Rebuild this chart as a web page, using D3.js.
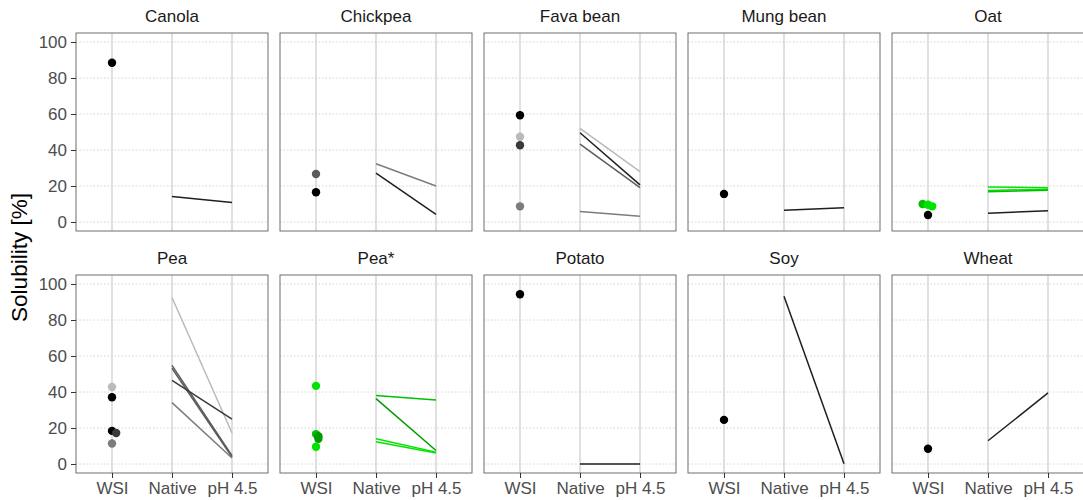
<!DOCTYPE html>
<html>
<head>
<meta charset="utf-8">
<script src="https://cdn.jsdelivr.net/npm/d3@7"></script>
<style>
  body { margin: 0; background: #fff; }
  text { font-family: 'Liberation Sans', Arial, sans-serif; }
</style>
</head>
<body>
<div id="chart"></div>
<script>
// Facets, x categories and y ticks
const crops = ['Canola', 'Chickpea', 'Fava bean', 'Mung bean', 'Oat',
               'Pea', 'Pea*', 'Potato', 'Soy', 'Wheat'];
const conditions = ['WSI', 'Native', 'pH 4.5'];
const yTicks = [0, 20, 40, 60, 80, 100];

// Source studies (colour groups)
const sources = ['k', 'd', 'dm', 'm', 'l', 'g', 'gb', 'gd'];
const sourceColors = ['#000000', '#3a3a3a', '#5c5c5c', '#7c7c7c', '#bababa', '#00c000', '#00e400', '#009c00'];

// WSI values (points); jitter is the small horizontal offset seen in the picture
const wsiPoints = [
  { crop: 'Canola', source: 'k', value: 88.5, jitter: 0 },
  { crop: 'Chickpea', source: 'dm', value: 26.7, jitter: 0 },
  { crop: 'Chickpea', source: 'k', value: 16.5, jitter: 0 },
  { crop: 'Fava bean', source: 'k', value: 59.3, jitter: 0 },
  { crop: 'Fava bean', source: 'l', value: 47.4, jitter: 0 },
  { crop: 'Fava bean', source: 'd', value: 42.6, jitter: 0 },
  { crop: 'Fava bean', source: 'm', value: 8.7, jitter: 0 },
  { crop: 'Mung bean', source: 'k', value: 15.6, jitter: 0 },
  { crop: 'Oat', source: 'g', value: 10.0, jitter: -0.09 },
  { crop: 'Oat', source: 'gb', value: 9.6, jitter: 0 },
  { crop: 'Oat', source: 'gb', value: 8.7, jitter: 0.07 },
  { crop: 'Oat', source: 'k', value: 3.9, jitter: 0 },
  { crop: 'Pea', source: 'l', value: 42.8, jitter: 0 },
  { crop: 'Pea', source: 'k', value: 37.1, jitter: 0 },
  { crop: 'Pea', source: 'k', value: 18.4, jitter: 0 },
  { crop: 'Pea', source: 'd', value: 17.2, jitter: 0.07 },
  { crop: 'Pea', source: 'm', value: 11.4, jitter: 0 },
  { crop: 'Pea*', source: 'gb', value: 43.4, jitter: 0 },
  { crop: 'Pea*', source: 'g', value: 16.6, jitter: 0 },
  { crop: 'Pea*', source: 'gd', value: 15.4, jitter: 0.04 },
  { crop: 'Pea*', source: 'gd', value: 14.0, jitter: 0.04 },
  { crop: 'Pea*', source: 'gb', value: 9.6, jitter: 0 },
  { crop: 'Potato', source: 'k', value: 94.3, jitter: 0 },
  { crop: 'Soy', source: 'k', value: 24.5, jitter: 0 },
  { crop: 'Wheat', source: 'k', value: 8.5, jitter: 0 }
];

// Native -> pH 4.5 solubility (lines)
const solLines = [
  { crop: 'Canola', source: 'k', native: 14.1, ph: 10.9 },
  { crop: 'Chickpea', source: 'm', native: 32.4, ph: 20.0 },
  { crop: 'Chickpea', source: 'k', native: 27.2, ph: 4.3 },
  { crop: 'Fava bean', source: 'l', native: 52.0, ph: 28.0 },
  { crop: 'Fava bean', source: 'k', native: 49.6, ph: 20.6 },
  { crop: 'Fava bean', source: 'dm', native: 43.3, ph: 19.1 },
  { crop: 'Fava bean', source: 'm', native: 5.9, ph: 3.2 },
  { crop: 'Mung bean', source: 'k', native: 6.5, ph: 7.9 },
  { crop: 'Oat', source: 'gb', native: 19.5, ph: 19.0 },
  { crop: 'Oat', source: 'gb', native: 17.5, ph: 18.2 },
  { crop: 'Oat', source: 'g', native: 16.8, ph: 17.6 },
  { crop: 'Oat', source: 'k', native: 4.8, ph: 6.3 },
  { crop: 'Pea', source: 'l', native: 92.5, ph: 17.2 },
  { crop: 'Pea', source: 'dm', native: 54.8, ph: 4.6 },
  { crop: 'Pea', source: 'dm', native: 53.2, ph: 3.9 },
  { crop: 'Pea', source: 'd', native: 46.5, ph: 24.9 },
  { crop: 'Pea', source: 'm', native: 34.1, ph: 3.3 },
  { crop: 'Pea*', source: 'g', native: 38.0, ph: 35.6 },
  { crop: 'Pea*', source: 'gd', native: 36.3, ph: 7.5 },
  { crop: 'Pea*', source: 'gb', native: 14.0, ph: 6.6 },
  { crop: 'Pea*', source: 'gb', native: 12.3, ph: 6.1 },
  { crop: 'Potato', source: 'k', native: 0, ph: 0 },
  { crop: 'Soy', source: 'k', native: 93.2, ph: 0.2 },
  { crop: 'Wheat', source: 'k', native: 12.9, ph: 39.5 }
];

const W = 1083, H = 500;
const marginLeft = 76, marginTop = 33, panelW = 192, panelH = 198, stepX = 204, stepY = 242;
const fontFam = "'Liberation Sans', Arial, sans-serif";

const svg = d3.select('#chart').append('svg')
    .attr('width', W).attr('height', H);

const color = d3.scaleOrdinal().domain(sources).range(sourceColors);

// discrete x with ggplot-like 0.6 expansion
const xScale = d3.scaleLinear().domain([0.4, 3.6]).range([0, panelW]);
const xPos = function(cond, dx) { return xScale(conditions.indexOf(cond) + 1 + (dx || 0)); };
const yScale = d3.scaleLinear().domain([-5, 105]).range([panelH, 0]);

// y axis title
svg.append('text')
    .attr('transform', 'translate(26.5,257.5) rotate(-90)')
    .attr('text-anchor', 'middle')
    .style('font-size', '22.5px')
    .style('fill', '#000')
    .text('Solubility [%]');

crops.forEach(function(crop, i) {
  const col = i % 5, row = Math.floor(i / 5);
  const g = svg.append('g')
      .attr('transform', 'translate(' + (marginLeft + col * stepX) + ',' + (marginTop + row * stepY) + ')');

  // horizontal dotted grid
  g.selectAll('.hgrid').data(yTicks).enter().append('line')
      .attr('x1', 0).attr('x2', panelW)
      .attr('y1', function(d) { return yScale(d); })
      .attr('y2', function(d) { return yScale(d); })
      .style('stroke', '#d4d4d4')
      .style('stroke-width', 1)
      .style('stroke-dasharray', '1.5,2');

  // vertical solid grid
  g.selectAll('.vgrid').data(conditions).enter().append('line')
      .attr('x1', function(d) { return xPos(d); })
      .attr('x2', function(d) { return xPos(d); })
      .attr('y1', 0).attr('y2', panelH)
      .style('stroke', '#cccccc')
      .style('stroke-width', 1.2);

  // lines Native -> pH 4.5
  g.selectAll('.sol').data(solLines.filter(function(d) { return d.crop === crop; })).enter().append('line')
      .attr('x1', xPos('Native')).attr('x2', xPos('pH 4.5'))
      .attr('y1', function(d) { return yScale(d.native); })
      .attr('y2', function(d) { return yScale(d.ph); })
      .style('stroke', function(d) { return d.source === 'k' ? '#1f1f1f' : color(d.source); })
      .style('stroke-width', 1.5);

  // WSI points
  g.selectAll('.pt').data(wsiPoints.filter(function(d) { return d.crop === crop; })).enter().append('circle')
      .attr('cx', function(d) { return xPos('WSI', d.jitter); })
      .attr('cy', function(d) { return yScale(d.value); })
      .attr('r', 4.2)
      .style('fill', function(d) { return color(d.source); });

  // panel border
  g.append('rect')
      .attr('x', 0).attr('y', 0).attr('width', panelW).attr('height', panelH)
      .style('fill', 'none').style('stroke', '#6e6e6e').style('stroke-width', 1);

  // strip title
  g.append('text')
      .attr('x', panelW / 2).attr('y', -11.5)
      .attr('text-anchor', 'middle')
      .style('font-size', '17px')
      .style('fill', '#1a1a1a')
      .text(crop);

  // y axis on first column
  if (col === 0) {
    const ya = g.append('g').call(d3.axisLeft(yScale).tickValues(yTicks).tickSize(5).tickPadding(4));
    ya.select('.domain').remove();
    ya.selectAll('line').style('stroke', '#333').style('stroke-width', 1);
    ya.selectAll('text').style('font-size', '17px').style('fill', '#4d4d4d')
        .style('font-family', fontFam);
  }

  // x axis on bottom row
  if (row === 1) {
    const xa = g.append('g').attr('transform', 'translate(0,' + panelH + ')')
        .call(d3.axisBottom(xScale).tickValues([1, 2, 3])
          .tickFormat(function(d) { return conditions[d - 1]; })
          .tickSize(5).tickPadding(3.5));
    xa.select('.domain').remove();
    xa.selectAll('line').style('stroke', '#333').style('stroke-width', 1);
    xa.selectAll('text').style('font-size', '17px').style('fill', '#4d4d4d')
        .style('font-family', fontFam);
  }
});
</script>
</body>
</html>
